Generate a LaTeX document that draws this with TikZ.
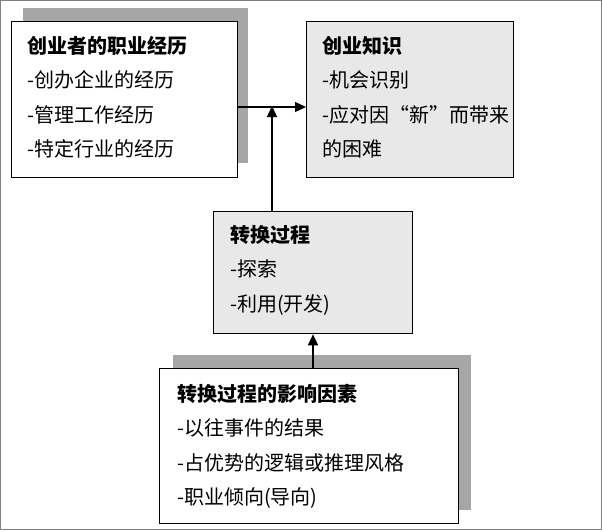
\documentclass[tikz,border=0pt]{standalone}
\usepackage{fontspec}
\setmainfont{Noto Sans CJK SC}
\usetikzlibrary{arrows.meta}
\begin{document}
\begin{tikzpicture}[x=1pt,y=-1pt,
  box/.style={draw=black,line width=1.3pt,anchor=north west,inner sep=0pt},
  shadow/.style={fill=black!35,anchor=north west,inner sep=0pt},
  txt/.style={anchor=north west,align=left,inner sep=0pt,font=\fontsize{20}{34.5}\selectfont},
  arr/.style={line width=1.3pt,-{Triangle[length=11pt,width=10pt]}}]
\useasboundingbox (0,0) rectangle (602,530);
\draw[black!50,line width=1pt] (0.5,0.5) rectangle (601.5,529.5);
% box1
\node[shadow,minimum width=225pt,minimum height=155pt] (s1) at (23,8) {};
\node[box,fill=white,minimum width=226pt,minimum height=156pt] (b1) at (11,21) {};
\node[txt] (t1) at (27,36) {\textbf{创业者的职业经历}\\-创办企业的经历\\-管理工作经历\\-特定行业的经历};
% box2
\node[box,fill=black!9,minimum width=207pt,minimum height=156pt] (b2) at (306,21) {};
\node[txt] (t2) at (322,36) {\textbf{创业知识}\\-机会识别\\-应对因“新”而带来\\的困难};
% box3
\node[box,fill=black!9,minimum width=199pt,minimum height=122pt] (b3) at (213,211) {};
\node[txt] (t3) at (230,225) {\textbf{转换过程}\\-探索\\-利用(开发)};
% box4
\node[shadow,minimum width=298pt,minimum height=155pt] (s4) at (173,355) {};
\node[box,fill=white,minimum width=299pt,minimum height=155pt] (b4) at (159,368) {};
\node[txt] (t4) at (177,384) {\textbf{转换过程的影响因素}\\-以往事件的结果\\-占优势的逻辑或推理风格\\-职业倾向(导向)};
% arrows
\coordinate (j) at (272,107);
\draw[arr] (b1.east |- j) -- (b2.west |- j);
\draw[arr] (b3.north -| j) -- ([yshift=1pt]j);
\draw[arr] (b4.north -| 313,0) -- (b3.south -| 313,0);
\end{tikzpicture}
\end{document}
